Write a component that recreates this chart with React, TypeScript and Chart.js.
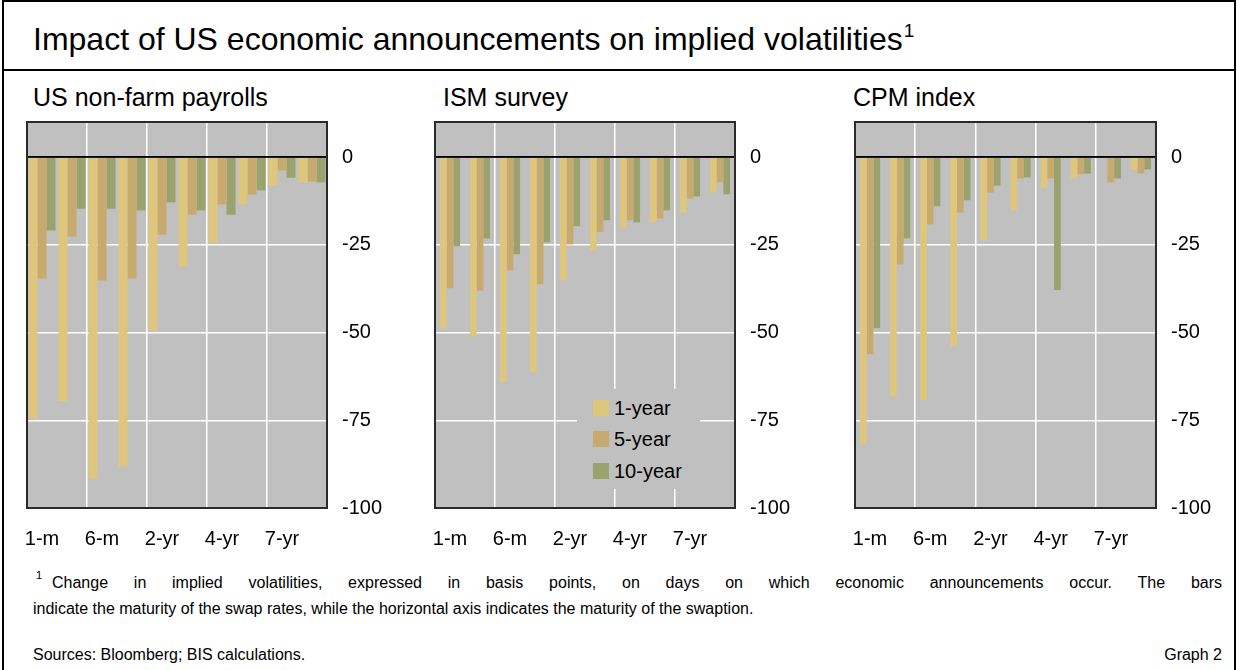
import React, { useEffect, useRef } from 'react';
import { Chart, registerables } from 'chart.js';

Chart.register(...registerables);

// ---------- data ----------
const categories = ['1-m', '3-m', '6-m', '1-yr', '2-yr', '3-yr', '4-yr', '5-yr', '7-yr', '10-yr'];
const xTickLabels = ['1-m', '', '6-m', '', '2-yr', '', '4-yr', '', '7-yr', ''];
const seriesNames = ['1-year', '5-year', '10-year'];
const seriesColors = ['#DFC67D', '#C8AA6F', '#9AA26D'];
const yMin = -100;
const yMax = 10;
const yStep = 25;

const payrolls1y = [-74.5, -69.5, -91.7, -88.2, -49.4, -31.2, -24.4, -13.5, -8.2, -7.2];
const payrolls5y = [-34.6, -22.6, -35.2, -34.6, -22.1, -16.4, -13.5, -10.7, -3.8, -7.0];
const payrolls10y = [-20.9, -14.7, -14.7, -15.2, -12.9, -15.2, -16.4, -9.5, -5.9, -7.2];

const ism1y = [-48.8, -51.1, -64.1, -61.3, -35.1, -26.6, -20.3, -18.6, -15.8, -10.1];
const ism5y = [-37.4, -38.0, -32.3, -36.2, -24.9, -21.4, -18.0, -17.5, -11.8, -7.2];
const ism10y = [-25.4, -23.2, -27.7, -24.3, -19.7, -18.0, -18.6, -15.2, -11.2, -10.6];

const cpm1y = [-81.9, -68.2, -69.2, -53.9, -23.7, -15.2, -8.9, -6.1, 0, -3.5];
const cpm5y = [-56.2, -30.6, -19.2, -15.8, -10.1, -6.1, -6.1, -4.9, -7.2, -4.7];
const cpm10y = [-48.8, -23.2, -14.0, -12.3, -8.1, -5.8, -37.9, -4.7, -6.1, -3.5];

const FONT = '"Liberation Sans", Arial, Helvetica, sans-serif';

// ---------- layout constants ----------
const PLOT_TOP = 122;
const PLOT_BOTTOM = 508;
const PAD_L = 6;
const PAD_T = 2;
const Y_AXIS_W = 70;
const X_AXIS_H = 45;

const plotPlugin = {
  id: 'plotFrame',
  beforeDraw(chart: any) {
    const { ctx, chartArea } = chart;
    const { left, top, right, bottom } = chartArea;
    ctx.save();
    ctx.fillStyle = '#C0C0C0';
    ctx.fillRect(left, top, right - left, bottom - top);
    ctx.restore();
  },
  afterDatasetsDraw(chart: any) {
    const { ctx, chartArea } = chart;
    const y0 = chart.scales.y.getPixelForValue(0);
    ctx.save();
    ctx.strokeStyle = '#000';
    ctx.lineWidth = 1.5;
    ctx.beginPath();
    ctx.moveTo(chartArea.left, y0);
    ctx.lineTo(chartArea.right, y0);
    ctx.stroke();
    ctx.restore();
  },
  afterDraw(chart: any) {
    const { ctx, chartArea } = chart;
    const { left, top, right, bottom } = chartArea;
    ctx.save();
    ctx.strokeStyle = '#2a2a2a';
    ctx.lineWidth = 2;
    ctx.strokeRect(left, top, right - left, bottom - top);
    ctx.restore();
  },
};

function Panel(props: { plotLeft: number; plotWidth: number; series: number[][]; catPct: number }) {
  const ref = useRef<HTMLCanvasElement | null>(null);
  const { plotLeft, plotWidth, series, catPct } = props;
  const width = PAD_L + plotWidth + Y_AXIS_W;
  const height = PAD_T + (PLOT_BOTTOM - PLOT_TOP) + X_AXIS_H;

  useEffect(() => {
    if (!ref.current) return;
    const chart = new Chart(ref.current, {
      type: 'bar',
      data: {
        labels: categories,
        datasets: series.map((d, i) => ({
          label: seriesNames[i],
          data: d,
          backgroundColor: seriesColors[i],
          borderWidth: 0,
          categoryPercentage: catPct,
          barPercentage: 1,
        })),
      },
      options: {
        animation: false,
        responsive: false,
        maintainAspectRatio: false,
        layout: { padding: { left: PAD_L, top: PAD_T, right: 0, bottom: 0 } },
        plugins: { legend: { display: false }, tooltip: { enabled: false } },
        scales: {
          x: {
            type: 'category',
            grid: {
              offset: true,
              drawTicks: false,
              lineWidth: 1.5,
              color: (ctx: any) =>
                typeof ctx.index === 'number' && ctx.index > 0 && ctx.index < categories.length && ctx.index % 2 === 0
                  ? '#ffffff'
                  : 'rgba(0,0,0,0)',
            },
            border: { display: false },
            ticks: {
              autoSkip: false,
              maxRotation: 0,
              minRotation: 0,
              padding: 19,
              color: '#000',
              font: { family: FONT, size: 20 },
              callback: (_v: any, i: number) => xTickLabels[i],
            },
            afterFit: (s: any) => {
              s.height = X_AXIS_H;
              s.paddingLeft = 0;
              s.paddingRight = 0;
            },
          },
          y: {
            position: 'right',
            min: yMin,
            max: yMax,
            grid: {
              drawTicks: false,
              lineWidth: 1.5,
              color: (ctx: any) => (ctx.tick && ctx.tick.value === 0 ? '#000' : '#ffffff'),
            },
            border: { display: false },
            ticks: {
              stepSize: yStep,
              includeBounds: false,
              padding: 15,
              color: '#000',
              font: { family: FONT, size: 20 },
            },
            afterFit: (s: any) => {
              s.width = Y_AXIS_W;
              s.paddingTop = 0;
              s.paddingBottom = 0;
            },
          },
        },
      } as any,
      plugins: [plotPlugin],
    });
    return () => chart.destroy();
  }, []);

  return (
    <canvas
      ref={ref}
      width={width}
      height={height}
      style={{ position: 'absolute', left: plotLeft - PAD_L, top: PLOT_TOP - PAD_T, width, height }}
    />
  );
}

const txt = (extra: any): any => ({ position: 'absolute', fontFamily: FONT, color: '#000', whiteSpace: 'nowrap', ...extra });

export default function App() {
  return (
    <div style={{ position: 'absolute', left: 0, top: 0, width: 1239, height: 670, overflow: 'hidden', background: '#fff' }}>
      <div style={{ position: 'absolute', left: 2, top: 0, width: 1234, height: 700, border: '2px solid #000', boxSizing: 'border-box' }} />
      <div style={{ position: 'absolute', left: 2, top: 69, width: 1234, height: 2, background: '#000' }} />
      <div style={txt({ left: 33, top: 21, fontSize: 32, lineHeight: '36px' })}>
        Impact of US economic announcements on implied volatilities
        <span style={{ fontSize: 19, position: 'relative', top: -13, marginLeft: 1 }}>1</span>
      </div>
      <div style={txt({ left: 33, top: 83, fontSize: 25, lineHeight: '29px' })}>US non-farm payrolls</div>
      <div style={txt({ left: 443, top: 83, fontSize: 25, lineHeight: '29px' })}>ISM survey</div>
      <div style={txt({ left: 853, top: 83, fontSize: 25, lineHeight: '29px' })}>CPM index</div>

      <Panel plotLeft={27} plotWidth={300} series={[payrolls1y, payrolls5y, payrolls10y]} catPct={0.9} />
      <Panel plotLeft={435} plotWidth={300} series={[ism1y, ism5y, ism10y]} catPct={0.67} />
      <Panel plotLeft={855} plotWidth={301} series={[cpm1y, cpm5y, cpm10y]} catPct={0.67} />

      <div style={{ position: 'absolute', left: 577, top: 389, width: 123, height: 100, background: '#C0C0C0' }}>
        {seriesNames.map((n, i) => (
          <div key={n} style={{ position: 'absolute', left: 16, top: 10 + i * 31.5, height: 17, display: 'flex', alignItems: 'center' }}>
            <div style={{ width: 16, height: 16, background: seriesColors[i] }} />
            <div style={{ marginLeft: 5, fontFamily: FONT, fontSize: 20, lineHeight: '20px', whiteSpace: 'nowrap' }}>{n}</div>
          </div>
        ))}
      </div>

      <div style={txt({ left: 36, top: 568, fontSize: 11, lineHeight: '14px' })}>1</div>
      <div style={txt({ left: 52, top: 570, width: 1170, fontSize: 16, lineHeight: '26px', textAlign: 'justify', textAlignLast: 'justify', whiteSpace: 'normal' })}>
        Change in implied volatilities, expressed in basis points, on days on which economic announcements occur. The bars
      </div>
      <div style={txt({ left: 33, top: 596, fontSize: 16, lineHeight: '26px' })}>
        indicate the maturity of the swap rates, while the horizontal axis indicates the maturity of the swaption.
      </div>
      <div style={txt({ left: 33, top: 642, fontSize: 16, lineHeight: '26px' })}>Sources: Bloomberg; BIS calculations.</div>
      <div style={txt({ left: 1100, top: 642, width: 122, textAlign: 'right', fontSize: 16, lineHeight: '26px' })}>Graph 2</div>
    </div>
  );
}
